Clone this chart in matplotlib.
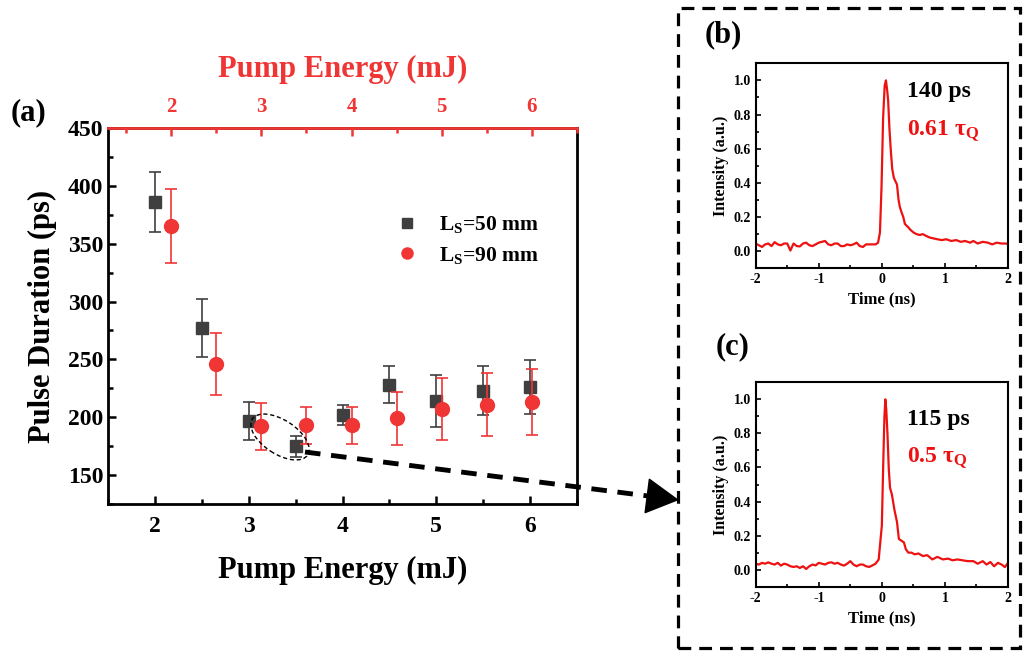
import matplotlib
matplotlib.use("Agg")
import matplotlib.pyplot as plt
from matplotlib.lines import Line2D
from matplotlib.patches import Ellipse, Rectangle, FancyArrowPatch
from matplotlib.transforms import IdentityTransform
from matplotlib.ticker import MultipleLocator

plt.rcParams['font.family'] = ['Liberation Serif', 'DejaVu Serif']
plt.rcParams['font.weight'] = 'bold'
plt.rcParams['axes.unicode_minus'] = False
plt.rcParams['mathtext.fontset'] = 'custom'
plt.rcParams['mathtext.rm'] = 'Liberation Serif:bold'
plt.rcParams['mathtext.bf'] = 'Liberation Serif:bold'
plt.rcParams['mathtext.it'] = 'Liberation Serif:bold'

# main plot data
energy = [2, 2.5, 3, 3.5, 4, 4.5, 5, 5.5, 6]
dur_50 = [386, 277, 197, 175, 202, 228, 214, 223, 226]
err_50 = [26, 25, 16.5, 9, 9, 16, 22.5, 21.5, 23.5]
dur_90 = [365, 246, 192, 193, 193, 199, 207, 211, 213.5]
err_90 = [32, 27, 20.5, 16, 16, 23, 26.5, 27.5, 28.5]

# pulse traces
t_b = [-2.0, -1.95, -1.9, -1.85, -1.8, -1.75, -1.7, -1.65, -1.6, -1.55, -1.5, -1.45,
       -1.4, -1.35, -1.3, -1.25, -1.2, -1.15, -1.1, -1.05, -1.0, -0.95, -0.9, -0.85,
       -0.8, -0.75, -0.7, -0.65, -0.6, -0.55, -0.5, -0.45, -0.4, -0.35, -0.3, -0.25,
       -0.2, -0.15, -0.1, -0.06, -0.03, -0.005, 0.02, 0.045, 0.065, 0.085, 0.1, 0.12,
       0.14, 0.165, 0.19, 0.215, 0.24, 0.265, 0.285, 0.31, 0.34, 0.365, 0.39, 0.42,
       0.44, 0.47, 0.5, 0.55, 0.6, 0.65, 0.7, 0.76, 0.82, 0.88, 0.95, 1.02, 1.1, 1.18,
       1.25, 1.32, 1.4, 1.45, 1.52, 1.6, 1.68, 1.75, 1.82, 1.9, 1.97, 2.0]
i_b = [0.045, 0.035, 0.025, 0.04, 0.045, 0.03, 0.053, 0.04, 0.035, 0.045, 0.045, 0.004,
       0.045, 0.03, 0.028, 0.045, 0.05, 0.035, 0.03, 0.04, 0.05, 0.055, 0.06, 0.04,
       0.035, 0.045, 0.045, 0.03, 0.03, 0.04, 0.035, 0.04, 0.05, 0.03, 0.025, 0.04,
       0.04, 0.04, 0.04, 0.05, 0.11, 0.38, 0.78, 0.97, 1.0, 0.94, 0.88, 0.72,
       0.6, 0.48, 0.43, 0.41, 0.39, 0.3, 0.26, 0.23, 0.2, 0.16, 0.15, 0.14,
       0.13, 0.12, 0.11, 0.1, 0.095, 0.1, 0.09, 0.08, 0.075, 0.07, 0.065, 0.07, 0.06, 0.065,
       0.055, 0.06, 0.05, 0.06, 0.045, 0.055, 0.05, 0.04, 0.05, 0.045, 0.045, 0.04]

t_c = [-2.0, -1.95, -1.9, -1.85, -1.8, -1.75, -1.7, -1.65, -1.6, -1.55, -1.5, -1.45,
       -1.4, -1.35, -1.3, -1.25, -1.2, -1.15, -1.1, -1.05, -1.0, -0.95, -0.9, -0.85,
       -0.8, -0.75, -0.7, -0.65, -0.6, -0.55, -0.5, -0.45, -0.4, -0.35, -0.3, -0.25,
       -0.2, -0.15, -0.1, -0.05, 0.0, 0.02, 0.04, 0.055, 0.07, 0.09, 0.11, 0.13,
       0.16, 0.2, 0.24, 0.27, 0.31, 0.35, 0.38, 0.42, 0.47, 0.52, 0.58, 0.65, 0.72,
       0.8, 0.88, 0.97, 1.05, 1.12, 1.2, 1.28, 1.36, 1.45, 1.52, 1.6, 1.66, 1.72,
       1.78, 1.84, 1.9, 1.95, 2.0]
i_c = [0.035, 0.03, 0.04, 0.035, 0.043, 0.035, 0.03, 0.04, 0.024, 0.035, 0.03, 0.02,
       0.016, 0.02, 0.01, 0.02, 0.004, 0.02, 0.03, 0.025, 0.04, 0.035, 0.03, 0.04,
       0.043, 0.035, 0.04, 0.03, 0.024, 0.035, 0.05, 0.03, 0.02, 0.03, 0.03, 0.02,
       0.016, 0.025, 0.035, 0.06, 0.26, 0.59, 0.89, 1.0, 0.94, 0.79, 0.59, 0.48,
       0.44, 0.35, 0.28, 0.18, 0.17, 0.16, 0.12, 0.1, 0.1, 0.09, 0.095, 0.08, 0.085,
       0.06, 0.075, 0.06, 0.065, 0.055, 0.06, 0.055, 0.05, 0.05, 0.035, 0.05, 0.03,
       0.045, 0.02, 0.04, 0.03, 0.015, 0.04]

BLACK = '#3f3f3f'
RED = '#f03535'

W, H = 1024, 654
fig = plt.figure(figsize=(W / 100, H / 100), dpi=100)


def px(x, y):
    return x / W, 1 - y / H


# ---- (a) main panel
ax = fig.add_axes([108 / W, 1 - 504 / H, (577 - 108) / W, (504 - 128) / H])
ax2 = ax.twiny()

ax.errorbar(energy, dur_50, yerr=err_50, fmt='s', color=BLACK, ms=8.5,
            ecolor=BLACK, elinewidth=1.2, capsize=4, capthick=1.2, zorder=3)
ax2.errorbar(energy, dur_90, yerr=err_90, fmt='o', color=RED, ms=10,
             ecolor=RED, elinewidth=1.2, capsize=4, capthick=1.2, zorder=3)

ax.set_xlim(1.5, 6.5)
ax2.set_xlim(1.3, 6.5)
ax.set_ylim(125, 450)
ax.xaxis.set_major_locator(MultipleLocator(1))
ax.xaxis.set_minor_locator(MultipleLocator(0.5))
ax2.xaxis.set_major_locator(MultipleLocator(1))
ax2.xaxis.set_minor_locator(MultipleLocator(0.5))
ax.yaxis.set_minor_locator(MultipleLocator(25))
ax.set_yticks([150, 200, 250, 300, 350, 400, 450])

for s in ax.spines.values():
    s.set_linewidth(2)
ax2.spines['top'].set_color(RED)
ax2.spines['top'].set_linewidth(2)
for s in ['left', 'right', 'bottom']:
    ax2.spines[s].set_visible(False)

ax.tick_params(axis='both', which='both', direction='in', width=1.8, top=False, right=False)
ax.tick_params(which='major', length=6, labelsize=17)
ax.tick_params(which='minor', length=3.5)
ax.tick_params(axis='x', pad=9)
ax2.tick_params(axis='x', which='both', direction='in', colors=RED, width=1.8)
ax2.tick_params(axis='x', which='major', length=6, labelsize=15, pad=8)
ax2.tick_params(axis='x', which='minor', length=3.5)

ax.set_xlabel('Pump Energy (mJ)', fontsize=22, fontweight='bold', labelpad=13)
ax.set_ylabel('Pulse Duration (ps)', fontsize=22, fontweight='bold', labelpad=8)
ax2.set_xlabel('Pump Energy (mJ)', fontsize=22, fontweight='bold', color=RED, labelpad=14)

handles = [Line2D([], [], marker='s', ls='none', color=BLACK, ms=7),
           Line2D([], [], marker='o', ls='none', color=RED, ms=8)]
labels = [r'L$_\mathrm{S}$=50 mm', r'L$_\mathrm{S}$=90 mm']
fig.legend(handles, labels, loc='center left', bbox_to_anchor=px(379, 240),
           frameon=False, fontsize=15.5, handlelength=0.8, handletextpad=1.1,
           labelspacing=0.42)

fig.text(*px(28, 113), '(a)', fontsize=22, fontweight='bold', ha='center', va='center')

# ellipse and arrow
ell = Ellipse((280, H - 437), 66, 34, angle=-33, fill=False, ec='black',
              lw=1.0, ls=(0, (3, 2)), transform=IdentityTransform())
fig.add_artist(ell)
fig.add_artist(Line2D([305 / W, 652 / W], [1 - 452 / H, 1 - 496.5 / H],
                      transform=fig.transFigure, color='black', lw=3.5,
                      ls=(0, (3.2, 2.2))))
fig.add_artist(FancyArrowPatch(
    px(650, 496.3), px(679, 500), transform=fig.transFigure,
    arrowstyle='-|>,head_length=2.0,head_width=1.1', mutation_scale=11,
    color='black', lw=1.0, shrinkA=0, shrinkB=0))

# dashed frame
fig.add_artist(Rectangle(px(678, 648), (1020 - 678) / W, (648 - 8) / H,
                         transform=fig.transFigure, fill=False, ec='black',
                         lw=2.3, ls=(0, (4, 2.5))))


# ---- insets (b) and (c)
def inset(top, bottom, t, inten, label, lab_y, txt1, txt2, y1, y2):
    a = fig.add_axes([755.7 / W, 1 - bottom / H, (1008 - 755.7) / W, (bottom - top) / H])
    a.plot(t, inten, color='#ee1111', lw=1.6)
    a.set_xlim(-2, 2)
    a.set_ylim(-0.1, 1.1)
    a.xaxis.set_major_locator(MultipleLocator(1))
    a.xaxis.set_minor_locator(MultipleLocator(0.5))
    a.yaxis.set_minor_locator(MultipleLocator(0.1))
    a.set_yticks([0.0, 0.2, 0.4, 0.6, 0.8, 1.0])
    for s in a.spines.values():
        s.set_linewidth(1.5)
    a.tick_params(which='both', direction='in', width=1.2, labelsize=10)
    a.tick_params(which='major', length=3.5)
    a.tick_params(which='minor', length=2)
    a.set_xlabel('Time (ns)', fontsize=12, fontweight='bold', labelpad=4)
    a.set_ylabel('Intensity (a.u.)', fontsize=11.5, fontweight='bold', labelpad=3)
    fig.text(*px(907, y1), txt1, fontsize=17, fontweight='bold', color='black',
             va='center', ha='left')
    fig.text(*px(907, y2), txt2, fontsize=17, fontweight='bold', color='#ee1111',
             va='center', ha='left')
    fig.text(*px(label[1], lab_y), label[0], fontsize=22, fontweight='bold',
             ha='center', va='center')
    return a


inset(63.3, 268.3, t_b, i_b, ('(b)', 723), 35, '140 ps', r'0.61 τ$_\mathrm{Q}$', 92, 131)
inset(382.3, 586.7, t_c, i_c, ('(c)', 733), 347, '115 ps', r'0.5 τ$_\mathrm{Q}$', 420, 458)

fig.savefig('out.png', dpi=100)
